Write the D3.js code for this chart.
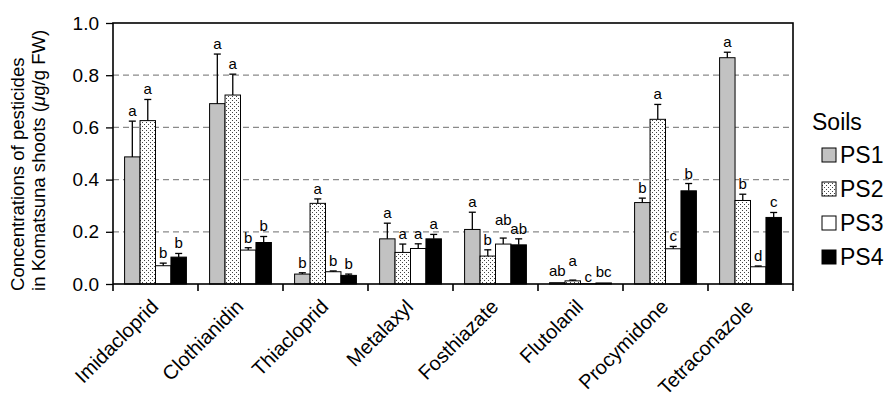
<!DOCTYPE html>
<html>
<head>
<meta charset="utf-8">
<script src="https://cdn.jsdelivr.net/npm/d3@7/dist/d3.min.js"></script>
<style>
  html, body { margin: 0; padding: 0; background: #fff; }
  svg { display: block; font-family: Arial, "Liberation Sans", Helvetica, sans-serif; }
</style>
</head>
<body>
<svg id="chart" width="892" height="398"></svg>
<script>
// Pesticides (x categories)
const categories = ["Imidacloprid", "Clothianidin", "Thiacloprid", "Metalaxyl",
                    "Fosthiazate", "Flutolanil", "Procymidone", "Tetraconazole"];
// Soil series
const soils = ["PS1", "PS2", "PS3", "PS4"];

// Mean concentrations (µg/g FW) per soil
const ps1 = [0.487, 0.691, 0.038, 0.173, 0.209, 0.005, 0.312, 0.867];
const ps2 = [0.626, 0.724, 0.309, 0.121, 0.107, 0.012, 0.631, 0.320];
const ps3 = [0.070, 0.130, 0.047, 0.136, 0.153, 0.001, 0.135, 0.066];
const ps4 = [0.103, 0.159, 0.033, 0.173, 0.150, 0.004, 0.357, 0.255];

// Standard errors
const ps1Err = [0.137, 0.190, 0.005, 0.060, 0.066, 0.001, 0.017, 0.021];
const ps2Err = [0.081, 0.080, 0.017, 0.032, 0.024, 0.003, 0.057, 0.024];
const ps3Err = [0.010, 0.009, 0.003, 0.018, 0.023, 0.001, 0.009, 0.003];
const ps4Err = [0.014, 0.023, 0.005, 0.017, 0.023, 0.001, 0.028, 0.019];

// Significance letters
const ps1Sig = ["a", "a", "b", "a", "a", "ab", "b", "a"];
const ps2Sig = ["a", "a", "a", "a", "b", "a", "a", "b"];
const ps3Sig = ["b", "b", "b", "a", "ab", "c", "c", "d"];
const ps4Sig = ["b", "b", "b", "a", "ab", "bc", "b", "c"];

// Y axis ticks
const yTicks = [0, 0.2, 0.4, 0.6, 0.8, 1.0];

const seriesValues = [ps1, ps2, ps3, ps4];
const seriesErrors = [ps1Err, ps2Err, ps3Err, ps4Err];
const seriesLetters = [ps1Sig, ps2Sig, ps3Sig, ps4Sig];

const svg = d3.select("#chart");
const plot = { left: 113, right: 793, top: 23, bottom: 284 };

// Letters that are shifted vertically so neighbours don't collide (px)
const letterNudge = {
  "Fosthiazate|PS3": -8,
  "Flutolanil|PS1": -1,
  "Flutolanil|PS2": -9,
  "Flutolanil|PS3": 4,
  "Flutolanil|PS4": -1
};

// Fill patterns
const defs = svg.append("defs");
const dots = defs.append("pattern")
  .attr("id", "dots").attr("patternUnits", "userSpaceOnUse")
  .attr("width", 4).attr("height", 4);
dots.append("rect").attr("width", 4).attr("height", 4).attr("fill", "#fff");
dots.append("rect").attr("x", 0).attr("y", 0).attr("width", 1).attr("height", 1).attr("fill", "#444");
dots.append("rect").attr("x", 2).attr("y", 2).attr("width", 1).attr("height", 1).attr("fill", "#444");

const fills = { PS1: "#c2c2c2", PS2: "url(#dots)", PS3: "#ffffff", PS4: "#000000" };

const x = d3.scaleBand().domain(categories).range([plot.left, plot.right]).padding(0);
const xs = d3.scaleBand().domain(soils).range([0, x.bandwidth()])
  .paddingInner(0).paddingOuter(0.75);
const y = d3.scaleLinear().domain([0, 1]).range([plot.bottom, plot.top]);

// Dashed grid lines
svg.append("g").selectAll("line")
  .data(yTicks.filter(t => t > 0 && t < 1))
  .join("line")
  .attr("x1", plot.left).attr("x2", plot.right)
  .attr("y1", d => y(d)).attr("y2", d => y(d))
  .attr("stroke", "#8a8a8a").attr("stroke-width", 1.2)
  .attr("stroke-dasharray", "6,4");

// Bars
const rows = [];
categories.forEach((c, i) => {
  soils.forEach((s, k) => {
    rows.push({ cat: c, soil: s, v: seriesValues[k][i], e: seriesErrors[k][i], sig: seriesLetters[k][i] });
  });
});

svg.append("g").selectAll("rect")
  .data(rows)
  .join("rect")
  .attr("x", d => x(d.cat) + xs(d.soil))
  .attr("y", d => y(d.v))
  .attr("width", xs.bandwidth())
  .attr("height", d => y(0) - y(d.v))
  .attr("fill", d => fills[d.soil])
  .attr("stroke", "#000").attr("stroke-width", 1);

// Error bars (upper only)
const cx = d => x(d.cat) + xs(d.soil) + xs.bandwidth() / 2;
const err = svg.append("g").attr("stroke", "#000").attr("stroke-width", 1.3);
err.selectAll("line.stem")
  .data(rows.filter(d => d.e > 0.002))
  .join("line").attr("class", "stem")
  .attr("x1", cx).attr("x2", cx)
  .attr("y1", d => y(d.v)).attr("y2", d => y(d.v + d.e));
err.selectAll("line.cap")
  .data(rows.filter(d => d.e > 0.002))
  .join("line").attr("class", "cap")
  .attr("x1", d => cx(d) - 3.5).attr("x2", d => cx(d) + 3.5)
  .attr("y1", d => y(d.v + d.e)).attr("y2", d => y(d.v + d.e));

// Significance letters
svg.append("g").selectAll("text")
  .data(rows)
  .join("text")
  .attr("x", cx)
  .attr("y", d => y(d.v + d.e) - 5 + (letterNudge[d.cat + "|" + d.soil] || 0))
  .attr("text-anchor", "middle")
  .attr("font-size", 15)
  .attr("fill", "#000")
  .text(d => d.sig);

// Y axis
const yAxis = svg.append("g")
  .attr("transform", `translate(${plot.left},0)`)
  .call(d3.axisLeft(y).tickValues(yTicks).tickFormat(d3.format(".1f")).tickSize(7).tickPadding(7));
yAxis.select(".domain").remove();
yAxis.selectAll(".tick line").attr("stroke", "#000").attr("stroke-width", 1.3);
yAxis.selectAll(".tick text").attr("font-size", 19).attr("font-family", "Arial, 'Liberation Sans', sans-serif").attr("fill", "#000");

// X axis: ticks at group boundaries
const xAxis = svg.append("g")
  .attr("transform", `translate(0,${plot.bottom})`)
  .call(d3.axisBottom(x).tickSize(0).tickFormat(""));
xAxis.select(".domain").remove();
const bounds = categories.map(c => x(c)).concat([x(categories[categories.length - 1]) + x.bandwidth()]);
svg.append("g").selectAll("line")
  .data(bounds)
  .join("line")
  .attr("x1", d => d).attr("x2", d => d)
  .attr("y1", plot.bottom).attr("y2", plot.bottom + 7)
  .attr("stroke", "#000").attr("stroke-width", 1.6);

// Category labels
svg.append("g").selectAll("text")
  .data(categories)
  .join("text")
  .attr("transform", d => `translate(${x(d) + x.bandwidth() / 2 + 4},${plot.bottom + 24}) rotate(-45)`)
  .attr("text-anchor", "end")
  .attr("font-size", 20)
  .attr("fill", "#000")
  .text(d => d);

// Plot frame
svg.append("rect")
  .attr("x", plot.left).attr("y", plot.top)
  .attr("width", plot.right - plot.left).attr("height", plot.bottom - plot.top)
  .attr("fill", "none").attr("stroke", "#000").attr("stroke-width", 1.6);

// Y axis title (two lines, aligned at the bottom)
const title = svg.append("g").attr("font-size", 18.6).attr("fill", "#000");
title.append("text")
  .attr("transform", `translate(24,291) rotate(-90)`)
  .attr("text-anchor", "start")
  .text("Concentrations of pesticides");
const t2 = title.append("text")
  .attr("transform", `translate(45,291) rotate(-90)`)
  .attr("text-anchor", "start");
t2.append("tspan").text("in Komatsuna shoots (");
t2.append("tspan").attr("font-style", "italic").text("μ");
t2.append("tspan").text("g/g FW)");

// Legend
const legend = svg.append("g");
legend.append("text")
  .attr("x", 812).attr("y", 130)
  .attr("font-size", 23).attr("fill", "#000")
  .text("Soils");
const ly = d3.scalePoint().domain(soils).range([155, 257]);
const li = legend.selectAll("g.item").data(soils).join("g").attr("class", "item")
  .attr("transform", d => `translate(822,${ly(d)})`);
li.append("rect")
  .attr("x", 0).attr("y", -7).attr("width", 14).attr("height", 14)
  .attr("fill", d => fills[d]).attr("stroke", "#000").attr("stroke-width", 1);
li.append("text")
  .attr("x", 18).attr("y", 8)
  .attr("font-size", 23).attr("fill", "#000")
  .text(d => d);
</script>
</body>
</html>
